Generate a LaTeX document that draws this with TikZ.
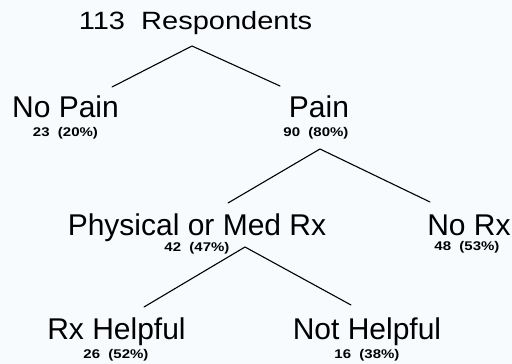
\documentclass[tikz,border=0pt]{standalone}
\usepackage{fontspec}
\setmainfont{Liberation Sans}
\newfontfamily\smallf[FakeStretch=1.19]{Liberation Sans}
\definecolor{bgc}{RGB}{248,251,254}
\begin{document}
\begin{tikzpicture}[x=1pt,y=-1pt,
  big/.style={inner sep=0pt,anchor=base,font=\fontsize{30}{31}\selectfont},
  ttl/.style={inner sep=0pt,anchor=base,font=\fontsize{25}{26}\selectfont},
  cnt/.style={inner sep=0pt,anchor=base,font=\smallf\bfseries\fontsize{12.6}{13}\selectfont},
  leg/.style={line width=1.1pt,line cap=round}]
\fill[bgc] (0,0) rectangle (512,364);
\useasboundingbox (0,0) rectangle (512,364);
% nodes
\node[ttl] (title) at (195.5,30) {\scalebox{1.16}[1]{113\ \ Respondents}};
\node[big] (nopain) at (65.5,117.5) {No Pain};
\node[cnt] (nopainc) at (65.5,136) {23\ \ (20\%)};
\node[big] (pain) at (319,117.5) {Pain};
\node[cnt] (painc) at (316,136) {90\ \ (80\%)};
\node[big] (phys) at (197,235.5) {Physical or Med Rx};
\node[cnt] (physc) at (197,251.5) {42\ \ (47\%)};
\node[big] (norx) at (469,235) {No Rx};
\node[cnt] (norxc) at (467,250) {48\ \ (53\%)};
\node[big] (rxh) at (116.5,339) {Rx Helpful};
\node[cnt] (rxhc) at (116,358) {26\ \ (52\%)};
\node[big] (noth) at (367,339) {Not Helpful};
\node[cnt] (nothc) at (367,358) {16\ \ (38\%)};
% branch points
\coordinate (a1) at (192,46);
\coordinate (l1) at (112,87);
\coordinate (r1) at (280,86);
\coordinate (a2) at (320,149);
\coordinate (l2) at (228,203);
\coordinate (r2) at (430,202);
\coordinate (a3) at (245,247);
\coordinate (l3) at (144,307);
\coordinate (r3) at (351,305);
\draw[leg] (l1) -- (a1) -- (r1);
\draw[leg] (l2) -- (a2) -- (r2);
\draw[leg] (l3) -- (a3) -- (r3);
\end{tikzpicture}
\end{document}
